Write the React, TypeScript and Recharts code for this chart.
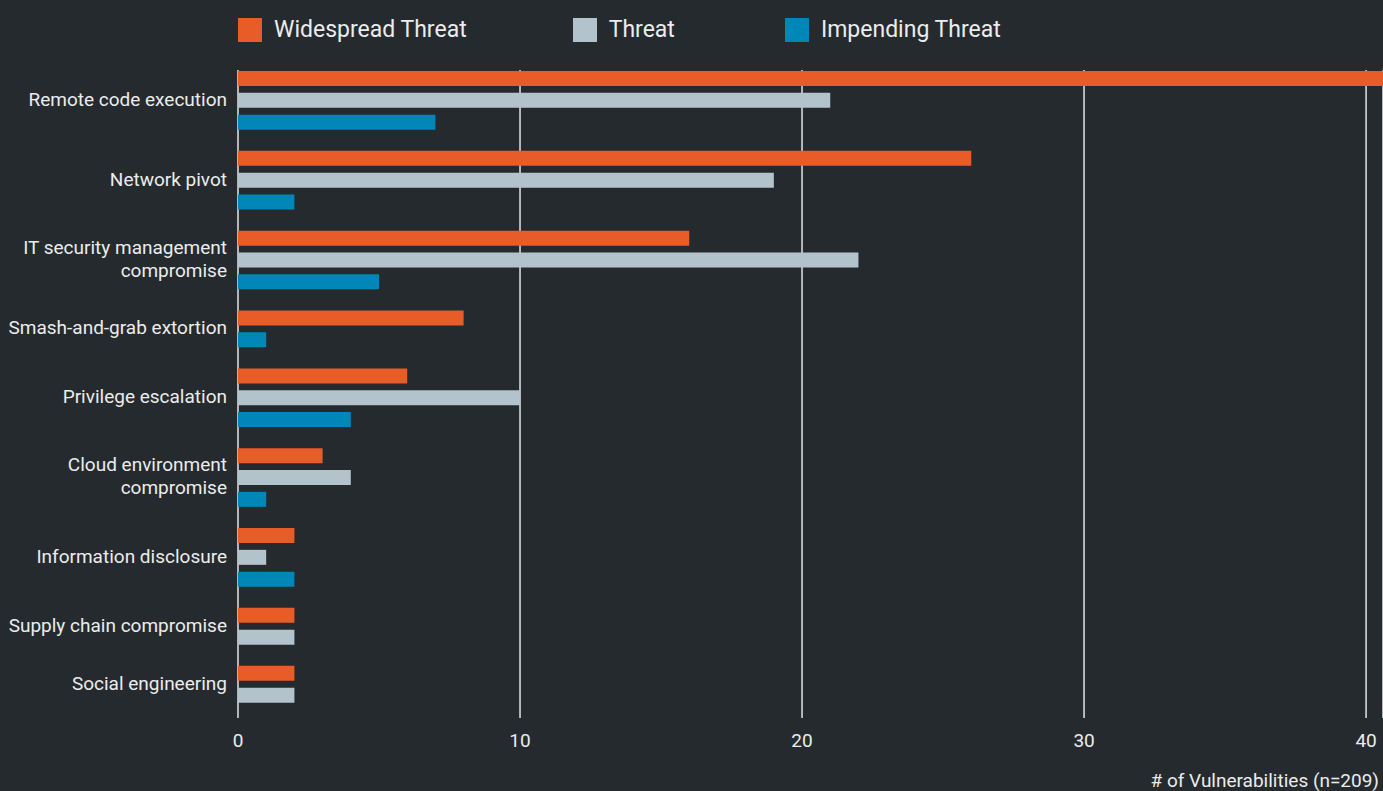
import React from 'react';
import { BarChart, Bar, XAxis, YAxis, CartesianGrid, Legend } from 'recharts';

const categories = [
  'Remote code execution',
  'Network pivot',
  'IT security management compromise',
  'Smash-and-grab extortion',
  'Privilege escalation',
  'Cloud environment compromise',
  'Information disclosure',
  'Supply chain compromise',
  'Social engineering',
];
const widespread = [41, 26, 16, 8, 6, 3, 2, 2, 2];
const threat = [21, 19, 22, 0, 10, 4, 1, 2, 2];
const impending = [7, 2, 5, 1, 4, 1, 2, 0, 0];
const xTicks = [0, 10, 20, 30, 40];

const series = [
  { key: 'widespread', name: 'Widespread Threat', color: '#e85d27', values: widespread },
  { key: 'threat', name: 'Threat', color: '#b3c3cb', values: threat },
  { key: 'impending', name: 'Impending Threat', color: '#0087b7', values: impending },
];

// extra space between groups, in bar slots
const GROUP_GAP = 1.66;

// one row per drawn bar; empty values get no slot, like the original
const rows: any[] = [];
const groupCenters: number[] = [];
let pos = 0;
categories.forEach((cat, ci) => {
  const start = pos;
  series.forEach((s) => {
    const v = s.values[ci];
    if (!v) return;
    const row: any = { pos, category: cat };
    series.forEach((o) => { row[o.key] = o.key === s.key ? v : 0; });
    rows.push(row);
    pos += 1;
  });
  groupCenters.push((start + pos - 1) / 2);
  pos += GROUP_GAP - 1;
});
const lastPos = rows[rows.length - 1].pos;

const font = 'Roboto, "Noto Sans", sans-serif';
const textColor = '#ececec';

const wrapLabel = (text: string, max = 24) => {
  const lines: string[] = [];
  let cur = '';
  text.split(' ').forEach((w) => {
    if (cur && (cur + ' ' + w).length > max) {
      lines.push(cur);
      cur = w;
    } else {
      cur = cur ? cur + ' ' + w : w;
    }
  });
  if (cur) lines.push(cur);
  return lines;
};

const CategoryTick = (props: any) => {
  const { x, y, payload } = props;
  const idx = groupCenters.findIndex((c) => Math.abs(c - payload.value) < 1e-6);
  if (idx < 0) return null;
  const lines = wrapLabel(categories[idx]);
  const lh = 23;
  const y0 = y - 2 - ((lines.length - 1) * lh) / 2;
  return (
    <text x={x} y={y0} textAnchor="end" fill={textColor} fontSize={19} fontFamily={font} dominantBaseline="central">
      {lines.map((l, i) => (
        <tspan key={i} x={x} y={y0 + i * lh}>{l}</tspan>
      ))}
    </text>
  );
};

const legendGaps = [106, 110, 0];

const renderLegend = () => (
  <div style={{ display: 'flex', paddingLeft: 238, fontFamily: font, fontSize: 23, color: textColor }}>
    {series.map((s, i) => (
      <div key={s.key} style={{ display: 'flex', alignItems: 'center', marginRight: legendGaps[i] }}>
        <span style={{ width: 24, height: 24, background: s.color, marginRight: 12, display: 'inline-block' }} />
        <span>{s.name}</span>
      </div>
    ))}
  </div>
);

export default function App() {
  return (
    <div style={{ position: 'fixed', left: 0, top: 0, width: 1383, height: 791, background: '#252a2e' }}>
      <BarChart
        width={1383}
        height={791}
        data={rows}
        layout="vertical"
        margin={{ top: 20, right: 0, left: 0, bottom: 0 }}
      >
        <CartesianGrid horizontal={false} stroke="#e4e4e4" strokeWidth={1.5} />
        <XAxis
          type="number"
          domain={[0, 40.6]}
          ticks={xTicks}
          allowDataOverflow
          axisLine={false}
          tickLine={false}
          tickMargin={10}
          height={73}
          tick={{ fill: textColor, fontSize: 19, fontFamily: font }}
          label={{ value: '# of Vulnerabilities (n=209)', position: 'insideBottomRight', offset: 4, fill: textColor, fontSize: 19, fontFamily: font }}
        />
        <YAxis
          type="number"
          dataKey="pos"
          domain={[-0.41, lastPos + 1.03]}
          allowDataOverflow
          ticks={groupCenters}
          interval={0}
          width={238}
          axisLine={false}
          tickLine={false}
          tickMargin={5}
          tick={<CategoryTick />}
        />
        <Legend
          verticalAlign="top"
          align="left"
          height={50}
          content={renderLegend}
          wrapperStyle={{ top: 16, left: 0, width: 1383 }}
        />
        {series.map((s) => (
          <Bar
            key={s.key}
            dataKey={s.key}
            name={s.name}
            fill={s.color}
            stackId="a"
            barSize={15}
            isAnimationActive={false}
          />
        ))}
      </BarChart>
    </div>
  );
}
